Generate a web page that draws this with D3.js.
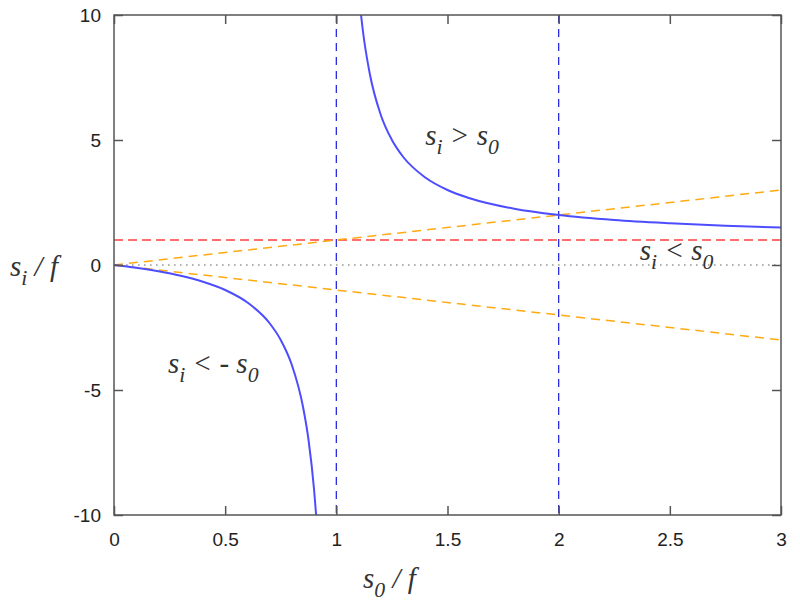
<!DOCTYPE html>
<html>
<head>
<meta charset="utf-8">
<script src="https://cdn.jsdelivr.net/npm/d3@7"></script>
<style>
  body { margin: 0; background: #fff; }
  svg { display: block; }
</style>
</head>
<body>
<script>
// values
const xTicks = [0, 0.5, 1, 1.5, 2, 2.5, 3];
const yTicks = [-10, -5, 0, 5, 10];

// lens curve, left branch (s0 < f)
const leftX = [0, 0.1, 0.2, 0.3, 0.4, 0.5, 0.6, 0.7, 0.75, 0.8, 0.85, 0.875, 0.9, 0.91];
const leftY = [0, -0.11, -0.25, -0.43, -0.67, -1, -1.5, -2.33, -3, -4, -5.67, -7, -9, -10.1];
// right branch (s0 > f)
const rightX = [1.09, 1.1, 1.12, 1.15, 1.2, 1.25, 1.3, 1.4, 1.5, 1.6, 1.8, 2, 2.25, 2.5, 2.75, 3];
const rightY = [12.1, 11, 9.33, 7.67, 6, 5, 4.33, 3.5, 3, 2.67, 2.25, 2, 1.8, 1.67, 1.57, 1.5];

// reference lines
const diagUpY = [0, 3];     // s_i = s_0 at x = 0 and 3
const diagDownY = [0, -3];  // s_i = -s_0
const focalY = 1;
const zeroY = 0;
const asymptoteX = [1, 2];

const labels = [
  { x: 1.40, y: 4.8, main: "s", sub: "i", rest: " > s", sub2: "0" },
  { x: 2.365, y: 0.2, main: "s", sub: "i", rest: " < s", sub2: "0" },
  { x: 0.243, y: -4.32, main: "s", sub: "i", rest: " < - s", sub2: "0" }
];

const width = 800, height = 607;
const margin = { top: 15, right: 19, bottom: 92, left: 114 };
const iw = width - margin.left - margin.right;
const ih = height - margin.top - margin.bottom;

const svg = d3.select("body").append("svg")
  .attr("width", width)
  .attr("height", height);

const g = svg.append("g")
  .attr("transform", `translate(${margin.left},${margin.top})`);

const x = d3.scaleLinear().domain([0, 3]).range([0, iw]);
const y = d3.scaleLinear().domain([-10, 10]).range([ih, 0]);

svg.append("defs").append("clipPath").attr("id", "clip")
  .append("rect").attr("width", iw).attr("height", ih);

const plot = g.append("g").attr("clip-path", "url(#clip)");

// zero line
plot.append("line")
  .attr("x1", x(0)).attr("x2", x(3))
  .attr("y1", y(zeroY)).attr("y2", y(zeroY))
  .attr("stroke", "#999").attr("stroke-width", 1.6)
  .attr("stroke-dasharray", "1.6,4.4");

// focal line
plot.append("line")
  .attr("x1", x(0)).attr("x2", x(3))
  .attr("y1", y(focalY)).attr("y2", y(focalY))
  .attr("stroke", "#ff4040").attr("stroke-width", 1.3)
  .attr("stroke-dasharray", "9,5");

// diagonals
[diagUpY, diagDownY].forEach(d => {
  plot.append("line")
    .attr("x1", x(0)).attr("x2", x(3))
    .attr("y1", y(d[0])).attr("y2", y(d[1]))
    .attr("stroke", "#ffaa11").attr("stroke-width", 1.5)
    .attr("stroke-dasharray", "9,6");
});

// vertical asymptote lines
plot.selectAll(".vline")
  .data(asymptoteX)
  .enter()
    .append("line")
      .attr("x1", d => x(d)).attr("x2", d => x(d))
      .attr("y1", 0).attr("y2", ih)
      .attr("stroke", "#2a2ae0").attr("stroke-width", 1.3)
      .attr("stroke-dasharray", "8,6");

// curve branches
const line = d3.line()
  .x(d => x(d[0]))
  .y(d => y(d[1]))
  .curve(d3.curveMonotoneX);

[[leftX, leftY], [rightX, rightY]].forEach(([xs, ys]) => {
  plot.append("path")
    .datum(xs.map((v, i) => [v, ys[i]]))
    .attr("d", line)
    .attr("fill", "none")
    .attr("stroke", "#4d4dff")
    .attr("stroke-width", 2);
});

// axes with inward ticks, mirrored
const axisColor = "#555";
const plain = d => String(d);
function styleAxis(sel) {
  sel.selectAll("path").attr("stroke", "none");
  sel.selectAll("line").attr("stroke", axisColor).attr("stroke-width", 1.5);
  sel.selectAll("text")
    .attr("fill", "#222")
    .style("font-family", "Liberation Sans, Arial, sans-serif")
    .style("font-size", "19px");
}

g.append("g")
  .attr("transform", `translate(0,${ih})`)
  .call(d3.axisBottom(x).tickValues(xTicks).tickSize(-9).tickPadding(18).tickFormat(plain))
  .call(styleAxis);

g.append("g")
  .call(d3.axisTop(x).tickValues(xTicks).tickSize(-9).tickFormat(""))
  .call(styleAxis);

g.append("g")
  .call(d3.axisLeft(y).tickValues(yTicks).tickSize(-9).tickPadding(13).tickFormat(plain))
  .call(styleAxis);

g.append("g")
  .attr("transform", `translate(${iw},0)`)
  .call(d3.axisRight(y).tickValues(yTicks).tickSize(-9).tickFormat(""))
  .call(styleAxis);

// frame
g.append("rect")
  .attr("width", iw).attr("height", ih)
  .attr("fill", "none")
  .attr("stroke", axisColor)
  .attr("stroke-width", 1.5);

// math-style text helper
const serifFont = "Liberation Serif, Times New Roman, serif";
function mathText(parent, px, py, main, sub, rest, sub2, size) {
  const t = parent.append("text")
    .attr("x", px).attr("y", py)
    .attr("fill", "#333")
    .style("font-family", serifFont)
    .style("font-style", "italic")
    .style("font-size", size + "px");
  t.append("tspan").text(main);
  t.append("tspan").attr("dy", size * 0.3).style("font-size", (size * 0.75) + "px").text(sub);
  t.append("tspan").attr("dy", -size * 0.3).text(rest);
  t.append("tspan").attr("dy", size * 0.3).style("font-size", (size * 0.75) + "px").text(sub2);
  return t;
}

labels.forEach(l => {
  mathText(g, x(l.x), y(l.y), l.main, l.sub, l.rest, l.sub2, 29);
});

// axis titles
mathText(svg, 10, 276, "s", "i", " / f", "", 29);
mathText(svg, 363, 588, "s", "0", "", "", 29)
  .append("tspan").attr("dy", -9).text(" / f");
</script>
</body>
</html>
